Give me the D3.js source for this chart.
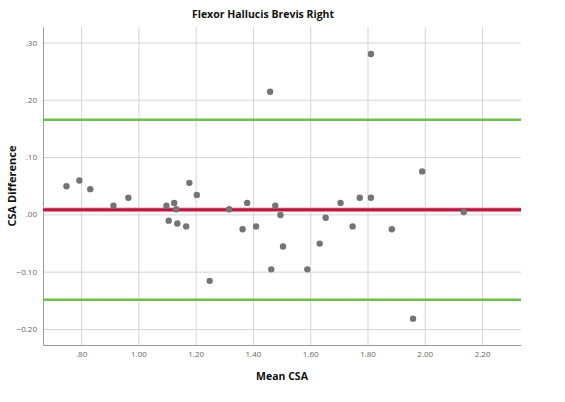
<!DOCTYPE html>
<html>
<head>
<meta charset="utf-8">
<script src="https://cdn.jsdelivr.net/npm/d3@7"></script>
<style>
  body { margin: 0; background: #fff; }
  text { font-family: "Open Sans", "Liberation Sans", sans-serif; }
</style>
</head>
<body>
<script>
// Bland-Altman points: mean CSA vs difference
var meanCSA = [0.749, 0.794, 0.832, 0.913, 0.965, 1.098, 1.106, 1.125, 1.132, 1.136,
    1.167, 1.178, 1.204, 1.249, 1.317, 1.364, 1.380, 1.411, 1.460, 1.464, 1.478,
    1.496, 1.505, 1.590, 1.633, 1.654, 1.706, 1.748, 1.773, 1.812, 1.812, 1.885,
    1.959, 1.991, 2.136];
var diffCSA = [0.049, 0.059, 0.044, 0.015, 0.029, 0.015, -0.011, 0.020, 0.009, -0.016,
    -0.021, 0.055, 0.034, -0.116, 0.009, -0.026, 0.020, -0.021, 0.214, -0.096, 0.015,
    -0.001, -0.056, -0.096, -0.051, -0.006, 0.020, -0.021, 0.029, 0.029, 0.280, -0.026,
    -0.182, 0.075, 0.004];

var meanLine = 0.008;
var limits = [0.165, -0.149];

var xTicks = [0.8, 1.0, 1.2, 1.4, 1.6, 1.8, 2.0, 2.2];
var yTicks = [-0.2, -0.1, 0, 0.1, 0.2, 0.3];

var width = 565, height = 402;
var margin = {top: 27, right: 44, bottom: 57, left: 43};

var svg = d3.select("body").append("svg")
    .attr("width", width)
    .attr("height", height);

var x = d3.scaleLinear()
    .domain([0.667, 2.336])
    .range([margin.left, width - margin.right]);

var y = d3.scaleLinear()
    .domain([-0.228, 0.327])
    .range([height - margin.bottom, margin.top]);

function fmt(v) {
    var s = d3.format(".2f")(v);
    return s.replace(/^0\./, ".").replace(/^-0\./, "-.");
}

// grid
svg.append("g")
    .attr("transform", "translate(0," + (height - margin.bottom) + ")")
    .call(d3.axisBottom(x).tickValues(xTicks).tickSize(-(height - margin.top - margin.bottom)).tickFormat(""))
    .call(function(g) {
        g.select(".domain").remove();
        g.selectAll("line").attr("stroke", "#d4d4d4");
    });

svg.append("g")
    .attr("transform", "translate(" + margin.left + ",0)")
    .call(d3.axisLeft(y).tickValues(yTicks).tickSize(-(width - margin.left - margin.right)).tickFormat(""))
    .call(function(g) {
        g.select(".domain").remove();
        g.selectAll("line").attr("stroke", "#d4d4d4");
    });

// axes
var xAxis = svg.append("g")
    .attr("transform", "translate(0," + (height - margin.bottom) + ")")
    .call(d3.axisBottom(x).tickValues(xTicks).tickSize(0).tickPadding(6).tickFormat(fmt));
xAxis.select(".domain").attr("stroke", "#9a9a9a");
xAxis.selectAll("text").attr("fill", "#666").style("font-size", "8px");

var yAxis = svg.append("g")
    .attr("transform", "translate(" + margin.left + ",0)")
    .call(d3.axisLeft(y).tickValues(yTicks).tickSize(0).tickPadding(6).tickFormat(fmt));
yAxis.select(".domain").attr("stroke", "#9a9a9a");
yAxis.selectAll("text").attr("fill", "#666").style("font-size", "8px");

// reference lines
svg.selectAll(".limit")
    .data(limits)
    .enter()
    .append("line")
    .attr("class", "limit")
    .attr("x1", margin.left)
    .attr("x2", width - margin.right)
    .attr("y1", function(d) { return y(d); })
    .attr("y2", function(d) { return y(d); })
    .attr("stroke", "#6cc04a")
    .attr("stroke-width", 2.5);

svg.append("line")
    .attr("x1", margin.left)
    .attr("x2", width - margin.right)
    .attr("y1", y(meanLine))
    .attr("y2", y(meanLine))
    .attr("stroke", "#f2b8c6")
    .attr("stroke-width", 5);

svg.append("line")
    .attr("x1", margin.left)
    .attr("x2", width - margin.right)
    .attr("y1", y(meanLine))
    .attr("y2", y(meanLine))
    .attr("stroke", "#b5173f")
    .attr("stroke-width", 3);

// points
svg.selectAll(".pt")
    .data(meanCSA)
    .enter()
    .append("circle")
    .attr("class", "pt")
    .attr("cx", function(d) { return x(d); })
    .attr("cy", function(d, i) { return y(diffCSA[i]); })
    .attr("r", 3.2)
    .attr("fill", "#747474");

// titles
svg.append("text")
    .attr("x", 263)
    .attr("y", 18)
    .attr("text-anchor", "middle")
    .style("font-size", "10.5px")
    .style("font-weight", "bold")
    .attr("fill", "#111")
    .text("Flexor Hallucis Brevis Right");

svg.append("text")
    .attr("x", (margin.left + width - margin.right) / 2)
    .attr("y", 380)
    .attr("text-anchor", "middle")
    .style("font-size", "10.5px")
    .style("font-weight", "bold")
    .attr("fill", "#111")
    .text("Mean CSA");

svg.append("text")
    .attr("transform", "translate(16," + ((margin.top + height - margin.bottom) / 2) + ") rotate(-90)")
    .attr("text-anchor", "middle")
    .style("font-size", "11px")
    .style("font-weight", "bold")
    .attr("fill", "#111")
    .text("CSA Difference");
</script>
</body>
</html>
